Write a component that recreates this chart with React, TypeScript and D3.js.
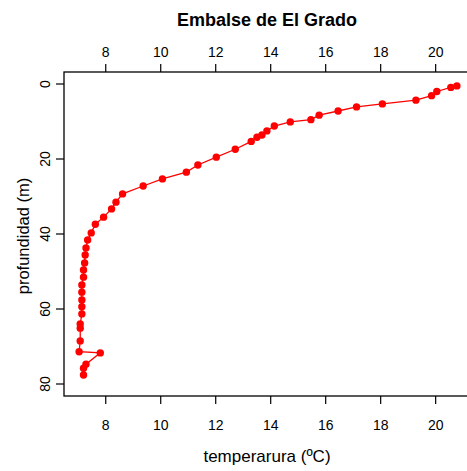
import React, { useEffect, useRef } from 'react';
import * as d3 from 'd3';

// temperature (ºC) and depth (m), surface to bottom
const temperatura = [
  20.79, 20.57, 20.06, 19.87, 19.3, 18.08, 17.14, 16.47, 15.78, 15.48,
  14.73, 14.15, 13.88, 13.7, 13.52, 13.31, 12.73, 12.04, 11.37, 10.95,
  10.08, 9.38, 8.63, 8.39, 8.23, 7.94, 7.64, 7.49, 7.36, 7.3,
  7.27, 7.25, 7.21, 7.21, 7.15, 7.15, 7.15, 7.15, 7.15, 7.09,
  7.09, 7.09, 7.05, 7.82, 7.3, 7.21, 7.21,
];
const profundidad = [
  0.5, 0.9, 2.0, 3.1, 4.3, 5.3, 6.1, 7.2, 8.3, 9.5,
  10.1, 11.2, 12.5, 13.6, 14.2, 15.3, 17.4, 19.5, 21.6, 23.5,
  25.3, 27.2, 29.3, 31.5, 33.3, 35.5, 37.4, 39.7, 41.6, 43.7,
  45.6, 47.7, 49.6, 51.5, 53.6, 55.5, 57.6, 59.4, 61.3, 64.0,
  65.1, 68.5, 71.4, 71.7, 74.7, 75.8, 77.6,
];
const xTicks = [8, 10, 12, 14, 16, 18, 20];
const yTicks = [0, 20, 40, 60, 80];

const App = () => {
  const svgRef = useRef<SVGSVGElement>(null);

  useEffect(() => {
    const svg = d3.select(svgRef.current);
    svg.selectAll('*').remove();
    const width = 467;
    const height = 471;
    const margin = { top: 72, right: -5, bottom: 75, left: 64 };
    const font = 'Liberation Sans, Arial, sans-serif';

    const x = d3
      .scaleLinear()
      .domain([6.5, 21.34])
      .range([margin.left, width - margin.right]);
    const y = d3
      .scaleLinear()
      .domain([-3.2, 83.2])
      .range([margin.top, height - margin.bottom]);

    const data = temperatura.map((t, i) => ({ t, p: profundidad[i] }));

    // box
    svg
      .append('rect')
      .attr('x', x.range()[0])
      .attr('y', y.range()[0])
      .attr('width', x.range()[1] - x.range()[0])
      .attr('height', y.range()[1] - y.range()[0])
      .attr('fill', 'none')
      .attr('stroke', 'black')
      .attr('stroke-width', 1.3);

    const styleAxis = (g) => {
      g.select('.domain').remove();
      g.selectAll('line').attr('stroke', 'black').attr('stroke-width', 1.2);
      g.selectAll('text').attr('font-family', font).attr('font-size', 14).attr('fill', 'black');
    };

    svg
      .append('g')
      .attr('transform', `translate(0,${y.range()[1]})`)
      .call(d3.axisBottom(x).tickValues(xTicks).tickSize(8).tickPadding(16))
      .call(styleAxis);

    svg
      .append('g')
      .attr('transform', `translate(0,${y.range()[0]})`)
      .call(d3.axisTop(x).tickValues(xTicks).tickSize(8).tickPadding(7))
      .call(styleAxis);

    const yAxis = svg
      .append('g')
      .attr('transform', `translate(${x.range()[0]},0)`)
      .call(d3.axisLeft(y).tickValues(yTicks).tickSize(8))
      .call(styleAxis);
    // R style: labels parallel to the axis
    yAxis.selectAll('.tick').attr('transform', null);
    yAxis.selectAll('.tick line').attr('transform', (d) => `translate(0,${y(d)})`);
    yAxis
      .selectAll('text')
      .attr('x', null)
      .attr('y', 0)
      .attr('dy', null)
      .attr('text-anchor', 'middle')
      .attr('dominant-baseline', 'middle')
      .attr('transform', (d) => `translate(-18,${y(d)})rotate(-90)`);

    // line and points
    const line = d3
      .line()
      .x((d) => x(d.t))
      .y((d) => y(d.p));

    svg
      .append('path')
      .datum(data)
      .attr('d', line)
      .attr('fill', 'none')
      .attr('stroke', 'red')
      .attr('stroke-width', 1.3);

    svg
      .append('g')
      .selectAll('circle')
      .data(data)
      .enter()
      .append('circle')
      .attr('cx', (d) => x(d.t))
      .attr('cy', (d) => y(d.p))
      .attr('r', 3.7)
      .style('fill', 'red');

    // titles
    svg
      .append('text')
      .attr('x', 267)
      .attr('y', 26)
      .attr('text-anchor', 'middle')
      .attr('font-family', font)
      .attr('font-size', 18)
      .attr('font-weight', 'bold')
      .text('Embalse de El Grado');

    svg
      .append('text')
      .attr('x', 267)
      .attr('y', 462)
      .attr('text-anchor', 'middle')
      .attr('font-family', font)
      .attr('font-size', 17)
      .text('temperarura (ºC)');

    svg
      .append('text')
      .attr('transform', `translate(29,236)rotate(-90)`)
      .attr('text-anchor', 'middle')
      .attr('font-family', font)
      .attr('font-size', 16.5)
      .text('profundidad (m)');
  }, []);

  return (
    <svg
      ref={svgRef}
      width={467}
      height={471}
      style={{ position: 'absolute', left: 0, top: 0, background: 'white' }}
    ></svg>
  );
};

export default App;
